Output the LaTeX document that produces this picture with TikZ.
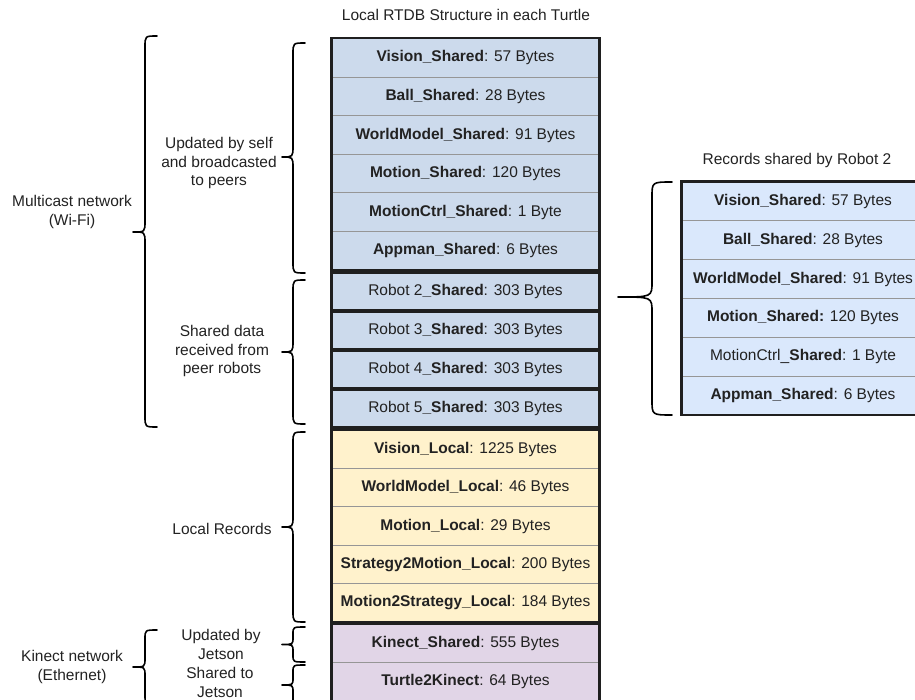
\documentclass[tikz,border=0pt]{standalone}
\usepackage{fontspec}
\setmainfont{Liberation Sans}
\definecolor{sharedblue}{RGB}{204,218,236}
\definecolor{peerblue}{RGB}{218,232,252}
\definecolor{localyellow}{RGB}{255,242,204}
\definecolor{kinectpurple}{RGB}{225,213,231}
\definecolor{rowline}{RGB}{150,150,150}
\definecolor{txt}{RGB}{34,34,34}
% curly brace opening to the right: spine x, hook x, tip x, top, middle, bottom, corner
\newcommand\drawcurly[7]{%
  \draw[curly] (#2,#4) .. controls (#1,#4) .. (#1,#4+#7) -- (#1,#5-#7)
    .. controls (#1,#5) .. (#3,#5) .. controls (#1,#5) .. (#1,#5+#7)
    -- (#1,#6-#7) .. controls (#1,#6) .. (#2,#6);}
\begin{document}
\begin{tikzpicture}[x=1pt,y=-1pt,
  every node/.style={font=\fontsize{15.5}{18.6}\selectfont, text=txt, inner sep=0pt},
  rec/.style={draw=rowline, line width=0.8pt, minimum width=267pt, minimum height=#1},
  rec/.default=38.6pt,
  peerrec/.style={draw=rowline, line width=0.8pt, fill=peerblue, minimum width=242pt, minimum height=38.8pt},
  grp/.style={draw=black!88, line width=2.4pt},
  curly/.style={draw=black, line width=1.6pt, line cap=round, line join=round},
  lbl/.style={align=center}]
\useasboundingbox (0,0) rectangle (915,700);

% titles
\node (t1) at (466,15) {Local RTDB Structure in each Turtle};
\node (t2) at (797,160) {Records shared by Robot 2};

% records updated by self
\node[rec, fill=sharedblue] (s1) at (465.5,57.8)  {\textbf{Vision\_Shared}: 57 Bytes};
\node[rec, fill=sharedblue] (s2) at (465.5,96.4)  {\textbf{Ball\_Shared}: 28 Bytes};
\node[rec, fill=sharedblue] (s3) at (465.5,135.0) {\textbf{WorldModel\_Shared}: 91 Bytes};
\node[rec, fill=sharedblue] (s4) at (465.5,173.6) {\textbf{Motion\_Shared}: 120 Bytes};
\node[rec, fill=sharedblue] (s5) at (465.5,212.2) {\textbf{MotionCtrl\_Shared}: 1 Byte};
\node[rec, fill=sharedblue] (s6) at (465.5,250.8) {\textbf{Appman\_Shared}: 6 Bytes};
\draw[grp] (s1.north west) rectangle (s6.south east);

% records received from peers
\node[rec=37pt, fill=sharedblue] (r2) at (465.5,291.5) {Robot 2\textbf{\_Shared}: 303 Bytes};
\node[rec=37pt, fill=sharedblue] (r3) at (465.5,330.5) {Robot 3\textbf{\_Shared}: 303 Bytes};
\node[rec=37pt, fill=sharedblue] (r4) at (465.5,369.5) {Robot 4\textbf{\_Shared}: 303 Bytes};
\node[rec=37pt, fill=sharedblue] (r5) at (465.5,408.5) {Robot 5\textbf{\_Shared}: 303 Bytes};
\foreach \r in {r2,r3,r4,r5} \draw[grp] (\r.north west) rectangle (\r.south east);

% local records
\node[rec=38.4pt, fill=localyellow] (l1) at (465.5,449.2) {\textbf{Vision\_Local}: 1225 Bytes};
\node[rec=38.4pt, fill=localyellow] (l2) at (465.5,487.6) {\textbf{WorldModel\_Local}: 46 Bytes};
\node[rec=38.4pt, fill=localyellow] (l3) at (465.5,526.0) {\textbf{Motion\_Local}: 29 Bytes};
\node[rec=38.4pt, fill=localyellow] (l4) at (465.5,564.4) {\textbf{Strategy2Motion\_Local}: 200 Bytes};
\node[rec=38.4pt, fill=localyellow] (l5) at (465.5,602.8) {\textbf{Motion2Strategy\_Local}: 184 Bytes};
\draw[grp] (l1.north west) rectangle (l5.south east);

% kinect records
\node[rec=38.5pt, fill=kinectpurple] (k1) at (465.5,643.25) {\textbf{Kinect\_Shared}: 555 Bytes};
\node[rec=38.5pt, fill=kinectpurple] (k2) at (465.5,681.75) {\textbf{Turtle2Kinect}: 64 Bytes};
\draw[grp] (k1.north west) rectangle (k2.south east);

% records shared by robot 2
\node[peerrec] (p1) at (803,201.4) {\textbf{Vision\_Shared}: 57 Bytes};
\node[peerrec] (p2) at (803,240.2) {\textbf{Ball\_Shared}: 28 Bytes};
\node[peerrec] (p3) at (803,279.0) {\textbf{WorldModel\_Shared}: 91 Bytes};
\node[peerrec] (p4) at (803,317.8) {\textbf{Motion\_Shared:} 120 Bytes};
\node[peerrec] (p5) at (803,356.6) {MotionCtrl\_\textbf{Shared}: 1 Byte};
\node[peerrec] (p6) at (803,395.4) {\textbf{Appman\_Shared}: 6 Bytes};
\draw[grp] (p1.north west) rectangle (p6.south east);

% braces
\drawcurly{145}{157}{133}{36}{232}{427}{11}
\drawcurly{293}{305}{282}{43}{157}{273}{11}
\drawcurly{293}{305}{282}{280}{352}{424}{11}
\drawcurly{293}{305}{282}{432}{527}{622}{11}
\drawcurly{293}{305}{282}{627}{644.5}{662}{7}
\drawcurly{293}{305}{282}{665}{685}{705}{7}
\drawcurly{145}{157}{133}{630}{667}{704}{9}
\drawcurly{652}{672}{618}{182}{297}{415}{15}

% brace labels
\node[lbl] (n1) at (72,212)  {Multicast network\\(Wi-Fi)};
\node[lbl] (n2) at (219,163) {Updated by self\\and broadcasted\\to peers};
\node[lbl] (n3) at (222,351) {Shared data\\received from\\peer robots};
\node[lbl] (n4) at (222,529) {Local Records};
\node[lbl] (n5) at (221,644.5) {Updated by\\Jetson};
\node[lbl] (n6) at (220,682.5) {Shared to\\Jetson};
\node[lbl] (n7) at (72,667)  {Kinect network\\(Ethernet)};
\end{tikzpicture}
\end{document}
